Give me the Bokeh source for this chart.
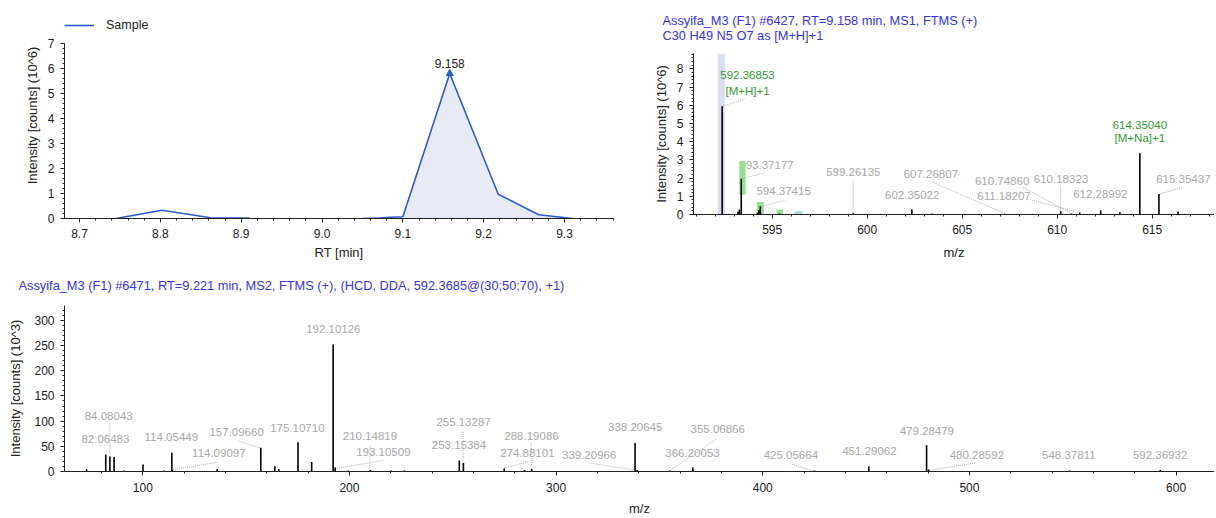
import numpy as np
from bokeh.plotting import figure
from bokeh.models import Range1d, SingleIntervalTicker, NumeralTickFormatter, Legend, LegendItem, Title
from bokeh.layouts import row, column
from bokeh.core.properties import value
from bokeh.embed import file_html
from bokeh.resources import INLINE

# ---------------- data ----------------
# Chromatogram (RT in min, intensity in 10^6 counts); NaN = gap in trace
chrom_rt = [8.745, 8.802, 8.862, 8.910, float("nan"), 9.050, 9.070, 9.085, 9.100, 9.158, 9.218, 9.268, 9.310]
chrom_int = [0.00, 0.33, 0.03, 0.02, float("nan"), 0.00, 0.02, 0.05, 0.07, 5.80, 0.97, 0.15, 0.00]
chrom_series = "Sample"

# MS1 spectrum (m/z, intensity 10^6)
ms1_mz = [592.36853, 593.20, 593.27, 593.37177, 594.22, 594.30, 594.37415, 595.38, 599.26135,
          602.35022, 603.40, 607.26807, 610.18323, 610.74860, 611.18207, 612.28992, 613.30,
          614.35040, 615.35437, 616.36]
ms1_int = [5.95, 0.15, 0.28, 1.96, 0.10, 0.25, 0.46, 0.06, 0.07,
           0.27, 0.05, 0.03, 0.18, 0.05, 0.11, 0.22, 0.13,
           3.37, 1.13, 0.16]
# isotope pattern boxes (m/z from-to, intensity from-to)
iso_left = [593.27, 594.19, 595.23]
iso_right = [593.60, 594.56, 595.58]
iso_bottom = [1.10, 0.00, 0.00]
iso_top = [2.93, 0.68, 0.27]
iso_extra_left = [596.19]
iso_extra_right = [596.59]
iso_extra_top = [0.18]
sel_band = [592.14, 592.51]

ms1_lab_text = ["593.37177", "594.37415", "599.26135", "602.35022", "607.26807",
                "610.74860", "610.18323", "611.18207", "612.28992", "615.35437"]
ms1_lab_x = [594.70, 595.60, 599.27, 602.37, 603.35, 607.10, 610.20, 607.20, 612.27, 616.64]
ms1_lab_y = [2.72, 1.29, 2.33, 1.09, 2.22, 1.82, 1.96, 1.03, 1.12, 1.96]
ms1_ann_text = ["592.36853", "[M+H]+1", "614.35040", "[M+Na]+1"]
ms1_ann_x = [593.70, 593.70, 614.35, 614.35]
ms1_ann_y = [7.68, 6.81, 4.94, 4.21]
ms1_lead_x0 = [592.41, 593.40, 594.45, 599.26, 607.25, 610.75, 611.18, 610.18, 615.40]
ms1_lead_y0 = [5.95, 1.96, 0.46, 0.07, 0.05, 0.05, 0.10, 0.18, 1.13]
ms1_lead_x1 = [593.60, 594.58, 595.70, 599.26, 603.45, 608.20, 608.60, 610.18, 616.60]
ms1_lead_y1 = [6.36, 2.29, 0.77, 1.85, 1.77, 1.50, 0.80, 1.55, 1.48]

# MS2 spectrum (m/z, intensity 10^3)
ms2_mz = [72.8, 82.06483, 84.08043, 86.10, 91.0, 100.08, 110.2, 114.05449, 114.09097, 136.0,
          157.09660, 163.9, 165.8, 175.10710, 181.7, 192.10126, 193.10509, 199.4, 210.14819,
          220.2, 226.7, 253.15384, 255.13287, 274.88101, 284.7, 288.19086, 338.20645, 339.20966,
          355.06866, 366.20053, 425.05664, 451.29062, 479.28479, 480.28592, 548.37811, 592.36932]
ms2_int = [5, 34, 30, 29, 2, 14, 2, 37, 3, 5,
           47, 10.5, 5, 58, 19, 252, 8, 2, 3,
           2, 2, 22, 17, 6, 3, 5, 56.6, 3,
           2, 8, 2, 10.5, 52, 4, 2, 3]
ms2_lab_text = ["84.08043", "82.06483", "114.05449", "114.09097", "157.09660", "175.10710",
                "192.10126", "210.14819", "193.10509", "255.13287", "253.15384", "288.19086",
                "274.88101", "339.20966", "338.20645", "355.06866", "366.20053", "425.05664",
                "451.29062", "479.28479", "480.28592", "548.37811", "592.36932"]
ms2_lab_x = [83.5, 81.9, 113.8, 136.8, 145.4, 174.8, 192.2, 209.9, 216.4, 255.2, 253.0, 288.1,
             286.1, 316.0, 338.3, 378.2, 366.0, 413.6, 451.6, 479.4, 503.6, 548.1, 592.3]
ms2_lab_y = [111, 64.5, 68.5, 37, 77.6, 86, 282, 70, 38, 98.7, 53.3, 69.7,
             37, 33.5, 87.5, 84, 37, 32, 40, 81, 33.5, 33.5, 33.5]
ms2_lead_x0 = [84.08, 114.7, 156.6, 193.0, 209.9, 255.0, 274.7, 288.0, 339.3, 354.6, 424.8, 480.2]
ms2_lead_y0 = [30, 4, 47, 6, 4, 17, 6, 5, 2, 0.6, 0.6, 2]
ms2_lead_x1 = [84.08, 136.8, 145.7, 216.4, 209.9, 255.0, 286.8, 288.0, 316.0, 377.7, 413.5, 503.0]
ms2_lead_y1 = [97, 18.4, 61, 22, 51, 79.5, 20, 58, 17, 64.5, 15, 17]

title_ms1 = ["Assyifa_M3 (F1) #6427, RT=9.158 min, MS1, FTMS (+)", "C30 H49 N5 O7 as [M+H]+1"]
title_ms2 = "Assyifa_M3 (F1) #6471, RT=9.221 min, MS2, FTMS (+), (HCD, DDA, 592.3685@(30;50;70), +1)"

# ---------------- style ----------------
FONT = "Liberation Sans"
BLUE = "#2a5bd0"
FILL = "#e6ebf7"
TITLE_BLUE = "#3434ee"
GRAY = "#a8a8a8"
GREEN = "#2f9a2f"
AXC = "#222222"


def style_axes(p, ylab_standoff, xlab_standoff, xtick_standoff=6):
    for ax in p.axis:
        ax.axis_line_color = AXC
        ax.major_tick_line_color = AXC
        ax.minor_tick_line_color = AXC
        ax.major_tick_in = 0
        ax.major_tick_out = 4
        ax.minor_tick_in = 0
        ax.minor_tick_out = 2
        ax.major_label_text_font = FONT
        ax.major_label_text_font_size = "12px"
        ax.major_label_text_color = AXC
        ax.axis_label_text_font = FONT
        ax.axis_label_text_font_size = "13px"
        ax.axis_label_text_font_style = "normal"
        ax.axis_label_text_color = AXC
        ax.major_label_standoff = 6
    p.xaxis.major_label_standoff = xtick_standoff
    p.yaxis.axis_label_standoff = ylab_standoff
    p.xaxis.axis_label_standoff = xlab_standoff
    p.grid.visible = False
    p.outline_line_color = None


def make_fig(w, h, xr, yr, mb):
    return figure(width=w, height=h, x_range=Range1d(*xr), y_range=Range1d(*yr), title=None,
                  toolbar_location=None, output_backend="svg",
                  min_border_left=mb[0], min_border_right=mb[1],
                  min_border_top=mb[2], min_border_bottom=mb[3])


def add_title(p, text, offset, standoff):
    p.add_layout(Title(text=text, align="left", offset=offset, standoff=standoff,
                       vertical_align="top",
                       text_font=FONT, text_font_size="12.8px", text_font_style="normal",
                       text_color=TITLE_BLUE), "above")


# ---------------- chromatogram ----------------
p1 = make_fig(640, 262, (8.6814, 9.3606), (0, 8.24), (64, 27, 12, 44))
rt = np.array(chrom_rt)
it = np.array(chrom_int)
mask = rt >= 9.05
p1.varea(x=rt[mask], y1=0, y2=it[mask], fill_color=FILL)
r_line = p1.line(rt, it, line_color=BLUE, line_width=1.6)
ipk = int(np.nanargmax(it))
p1.scatter([rt[ipk]], [it[ipk]], marker="triangle", size=7, color=BLUE)
p1.text([rt[ipk]], [it[ipk]], text=[f"{rt[ipk]:.3f}"], text_align="center", text_baseline="bottom",
        y_offset=-6, text_font=value(FONT), text_font_size="12px", text_color=AXC)
p1.xaxis.ticker = SingleIntervalTicker(interval=0.1, num_minor_ticks=5)
p1.xaxis.formatter = NumeralTickFormatter(format="0.0")
p1.yaxis.ticker = SingleIntervalTicker(interval=1, num_minor_ticks=5)
p1.yaxis.bounds = (0, 7)
p1.xaxis.axis_label = "RT [min]"
p1.yaxis.axis_label = "Intensity [counts] (10^6)"
style_axes(p1, 5, 4)
legend = Legend(items=[LegendItem(label=chrom_series, renderers=[r_line])], location="top_left",
                margin=0, padding=9, glyph_width=30, glyph_height=26, label_height=26,
                label_standoff=12,
                label_text_font=FONT, label_text_font_size="12.5px", label_text_color=AXC,
                border_line_color=None, background_fill_alpha=0)
p1.add_layout(legend)

# ---------------- MS1 ----------------
p2 = make_fig(574, 262, (590.858, 618.279), (0, 8.846), (53, 0, 53, 48))
ytop = p2.y_range.end
p2.quad(left=[sel_band[0]], right=[sel_band[1]], bottom=[0], top=[ytop], fill_color="#d9dcf2", line_color=None)
p2.text(ms1_lab_x, ms1_lab_y, text=ms1_lab_text, text_align="center", text_baseline="middle",
        text_font=value(FONT), text_font_size="11.5px", text_color=GRAY)
p2.quad(left=iso_left, right=iso_right, bottom=iso_bottom, top=iso_top, fill_color="#92e092", line_color=None)
p2.quad(left=iso_extra_left, right=iso_extra_right, bottom=[0], top=iso_extra_top, fill_color="#a6d8ea", line_color=None)
p2.segment(ms1_lead_x0, ms1_lead_y0, ms1_lead_x1, ms1_lead_y1, line_color="#b0b0b0", line_dash="1 1", line_width=1)
p2.segment(ms1_mz, [0] * len(ms1_mz), ms1_mz, ms1_int, line_color="black", line_width=1.6)
p2.text(ms1_ann_x, ms1_ann_y, text=ms1_ann_text, text_align="center", text_baseline="middle",
        text_font=value(FONT), text_font_size="11.5px", text_color=GREEN)
p2.xaxis.ticker = SingleIntervalTicker(interval=5, num_minor_ticks=5)
p2.yaxis.ticker = SingleIntervalTicker(interval=1, num_minor_ticks=5)
p2.xaxis.axis_label = "m/z"
p2.yaxis.axis_label = "Intensity [counts] (10^6)"
style_axes(p2, 5, 8)
add_title(p2, "\n".join(title_ms1), -31, 17)

# ---------------- MS2 ----------------
p3 = make_fig(1214, 256, (62.11, 618.6), (0, 329.6), (64, 0, 43, 46))
p3.segment(ms2_lead_x0, ms2_lead_y0, ms2_lead_x1, ms2_lead_y1, line_color="#b0b0b0", line_dash="1 1", line_width=1)
p3.segment(ms2_mz, [0] * len(ms2_mz), ms2_mz, ms2_int, line_color="black", line_width=1.6)
p3.text(ms2_lab_x, ms2_lab_y, text=ms2_lab_text, text_align="center", text_baseline="middle",
        text_font=value(FONT), text_font_size="11.5px", text_color=GRAY)
p3.xaxis.ticker = SingleIntervalTicker(interval=100, num_minor_ticks=5)
p3.yaxis.ticker = SingleIntervalTicker(interval=50, num_minor_ticks=5)
p3.xaxis.axis_label = "m/z"
p3.yaxis.axis_label = "Intensity [counts] (10^3)"
style_axes(p3, 8, 6, 7)
add_title(p3, title_ms2, -46, 22)

layout = column(row(p1, column(p2)), p3)
open("out.html", "w").write(file_html(layout, INLINE))
